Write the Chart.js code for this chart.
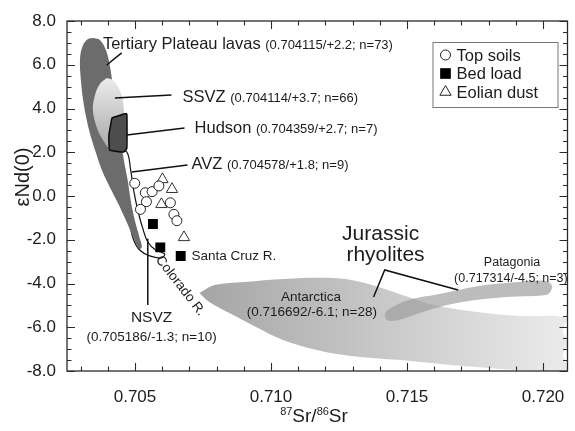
<!DOCTYPE html>
<html>
<head>
<meta charset="utf-8">
<script src="https://cdn.jsdelivr.net/npm/chart.js@4.4.1/dist/chart.umd.min.js"></script>
<style>
  html, body { margin: 0; padding: 0; background: #fff; }
</style>
</head>
<body>
<canvas id="srNdChart" width="575" height="431"></canvas>
<script>
// tick labels
const xTicks = [0.705, 0.710, 0.715, 0.720];
const yTicks = [-8, -6, -4, -2, 0, 2, 4, 6, 8];

// samples: [87Sr/86Sr, eNd(0)]
const topSoils = [[0.70499, 0.58], [0.70538, 0.15], [0.70563, 0.20], [0.70588, 0.46], [0.70542, -0.26],
  [0.70520, -0.61], [0.70630, -0.31], [0.70643, -0.84], [0.70654, -1.13]];
const bedLoad = [[0.70566, -1.28], [0.70593, -2.35], [0.70668, -2.74]];
const eolianDust = [[0.70601, 0.76], [0.70636, 0.31], [0.70597, -0.38], [0.70680, -1.89]];

// source fields, outlines
const tertiaryLavas = [[0.70345, 7.22], [0.70371, 7.13], [0.70393, 6.67], [0.70407, 5.99], [0.70418, 5.07],
  [0.70429, 3.93], [0.70444, 2.79], [0.70459, 1.65], [0.70473, 0.73], [0.70484, -0.18], [0.70499, -1.10],
  [0.70517, -1.92], [0.70525, -2.33], [0.70514, -2.42], [0.70495, -1.92], [0.70466, -1.10], [0.70437, -0.32],
  [0.70407, 0.41], [0.70378, 1.19], [0.70353, 2.10], [0.70331, 3.02], [0.70312, 4.16], [0.70301, 5.30],
  [0.70298, 6.31], [0.70309, 6.90], [0.70327, 7.18]];
const ssvz = [[0.70396, 5.39], [0.70418, 5.30], [0.70440, 4.94], [0.70455, 4.39], [0.70459, 3.70],
  [0.70448, 3.11], [0.70429, 2.56], [0.70407, 2.19], [0.70382, 2.56], [0.70360, 3.11], [0.70345, 3.93],
  [0.70353, 4.62], [0.70371, 5.12]];
const hudson = [[0.70415, 3.57], [0.70459, 3.75], [0.70470, 3.75], [0.70470, 2.19], [0.70459, 2.01],
  [0.70407, 2.10], [0.70404, 2.79]];
const avz = [[0.70437, 2.10], [0.70470, 2.01], [0.70484, 1.19], [0.70495, 0.27], [0.70510, -0.64],
  [0.70528, -1.46], [0.70547, -2.10], [0.70576, -2.47], [0.70609, -2.65], [0.70598, -2.83], [0.70554, -2.74],
  [0.70517, -2.47], [0.70495, -2.01], [0.70481, -1.33], [0.70470, -0.64], [0.70459, 0.05], [0.70444, 0.96],
  [0.70429, 1.74]];
const antarctica = [[0.70737, -4.43], [0.70792, -4.07], [0.70902, -3.93], [0.71048, -3.79], [0.71231, -3.75],
  [0.71330, -3.93], [0.71418, -4.25], [0.71516, -4.66], [0.71615, -5.03], [0.71787, -5.35], [0.71912, -5.48],
  [0.72091, -5.58], [0.72073, -6.22], [0.72095, -6.67], [0.72073, -7.27], [0.72095, -7.72], [0.72087, -8.00],
  [0.71912, -7.95], [0.71663, -7.72], [0.71476, -7.50], [0.71293, -7.31], [0.71169, -7.04], [0.71044, -6.58],
  [0.70938, -5.94], [0.70847, -5.35], [0.70773, -4.84]];
const patagonia = [[0.71425, -5.67], [0.71418, -5.39], [0.71440, -5.12], [0.71505, -4.75], [0.71619, -4.48],
  [0.71765, -4.11], [0.71912, -3.93], [0.72011, -3.88], [0.72032, -4.07], [0.72029, -4.34], [0.72011, -4.52],
  [0.71864, -4.62], [0.71703, -4.84], [0.71593, -5.16], [0.71469, -5.67], [0.71440, -5.71]];

// leader lines for the labels
const leaders = [
  [[0.70396, 5.99], [0.70451, 6.54]],
  [[0.70426, 4.48], [0.70634, 4.62]],
  [[0.70470, 2.79], [0.70682, 3.11]],
  [[0.70488, 1.10], [0.70693, 1.42]],
  [[0.70547, -1.95], [0.70547, -4.98]],
  [[0.71377, -4.62], [0.71418, -3.38], [0.71688, -4.30]]
];

// label texts and where they sit (data units)
const headNotes = [
  { big: 'Tertiary Plateau lavas', small: '(0.704115/+2.2; n=73)', x: 0.70382, y: 6.72 },
  { big: 'SSVZ', small: '(0.704114/+3.7; n=66)', x: 0.70675, y: 4.30 },
  { big: 'Hudson', small: '(0.704359/+2.7; n=7)', x: 0.70719, y: 2.88 },
  { big: 'AVZ', small: '(0.704578/+1.8; n=9)', x: 0.70708, y: 1.23 }
];
const plainNotes = [
  { text: 'NSVZ', size: 15.5, x: 0.70561, y: -5.58 },
  { text: '(0.705186/-1.3; n=10)', size: 13.5, x: 0.70561, y: -6.44 },
  { text: 'Jurassic', size: 21, x: 0.71403, y: -1.74 },
  { text: 'rhyolites', size: 21, x: 0.71421, y: -2.70 },
  { text: 'Antarctica', size: 13.5, x: 0.71147, y: -4.62 },
  { text: '(0.716692/-6.1; n=28)', size: 13.5, x: 0.71150, y: -5.30 },
  { text: 'Patagonia', size: 12.5, x: 0.71886, y: -3.06 },
  { text: '(0.717314/-4.5; n=3)', size: 12.5, x: 0.71882, y: -3.79 },
  { text: 'Santa Cruz R.', size: 13.5, x: 0.70708, y: -2.74, align: 'left' },
  { text: 'Colorado R.', size: 13.5, x: 0.70667, y: -4.11, rot: 52 }
];

const FONT = "'Liberation Sans', Arial, sans-serif";
const INK = '#1c1c1c';

const toXY = arr => arr.map(([x, y]) => ({ x, y }));
const closed = arr => toXY(arr.concat([arr[0]]));

// gradient helpers (pixel positions come from the scales)
function hGradient(ctx, x0, x1, c0, c1) {
  const chart = ctx.chart;
  if (!chart.chartArea) return c0;
  const sx = chart.scales.x;
  const g = chart.ctx.createLinearGradient(sx.getPixelForValue(x0), 0, sx.getPixelForValue(x1), 0);
  g.addColorStop(0, c0);
  g.addColorStop(1, c1);
  return g;
}
function vGradient(ctx, y0, y1, c0, c1) {
  const chart = ctx.chart;
  if (!chart.chartArea) return c0;
  const sy = chart.scales.y;
  const g = chart.ctx.createLinearGradient(0, sy.getPixelForValue(y0), 0, sy.getPixelForValue(y1));
  g.addColorStop(0, c0);
  g.addColorStop(1, c1);
  return g;
}

function field(label, pts, fillColor, order, extra) {
  return Object.assign({
    type: 'line',
    label: label,
    data: closed(pts),
    fill: 'shape',
    backgroundColor: fillColor,
    borderWidth: 0,
    borderColor: 'rgba(0,0,0,0)',
    pointRadius: 0,
    tension: 0.35,
    order: order
  }, extra || {});
}

const datasets = [
  field('Antarctica', antarctica, c => hGradient(c, 0.7075, 0.7205, '#a6a6a6', '#e9e9e9'), 20),
  field('Patagonia', patagonia, c => hGradient(c, 0.714, 0.720, 'rgba(150,150,150,0.6)', 'rgba(170,170,170,0.8)'), 19),
  field('AVZ', avz, '#ffffff', 18, { borderWidth: 1.2, borderColor: '#111' }),
  field('Tertiary Plateau lavas', tertiaryLavas, '#6c6c6c', 17),
  field('SSVZ', ssvz, c => vGradient(c, 5.4, 2.2, '#ececec', '#a9a9a9'), 16),
  field('Hudson', hudson, '#4d4d4d', 15, { borderWidth: 1.5, borderColor: '#0a0a0a', tension: 0.1 })
];

leaders.forEach((pts, i) => {
  datasets.push({
    type: 'line',
    label: 'leader' + i,
    data: toXY(pts),
    borderColor: '#111',
    borderWidth: 1.5,
    pointRadius: 0,
    fill: false,
    tension: 0,
    order: 5
  });
});

datasets.push(
  { label: 'Top soils', data: toXY(topSoils), pointStyle: 'circle', pointRadius: 5,
    backgroundColor: '#fff', borderColor: '#222', borderWidth: 1, order: 1 },
  { label: 'Bed load', data: toXY(bedLoad), pointStyle: 'rect', pointRadius: 7,
    backgroundColor: '#000', borderColor: '#000', borderWidth: 0, order: 1 },
  { label: 'Eolian dust', data: toXY(eolianDust), pointStyle: 'triangle', pointRadius: 6.5,
    backgroundColor: '#fff', borderColor: '#333', borderWidth: 1, order: 1 }
);

// frame, inward ticks, labels, legend and axis titles
const decorPlugin = {
  id: 'decor',
  afterDatasetsDraw(chart) {
    const { ctx, chartArea: a, scales: { x, y } } = chart;
    ctx.save();
    ctx.strokeStyle = '#2a2a2a';
    ctx.lineWidth = 1.3;
    ctx.strokeRect(a.left, a.top, a.right - a.left, a.bottom - a.top);

    ctx.lineWidth = 1.1;
    ctx.beginPath();
    for (let i = 703; i <= 720; i++) {
      const px = Math.round(x.getPixelForValue(i / 1000)) + 0.5;
      const len = i % 5 === 0 ? 8 : 4.5;
      ctx.moveTo(px, a.bottom); ctx.lineTo(px, a.bottom - len);
      ctx.moveTo(px, a.top); ctx.lineTo(px, a.top + len);
    }
    for (let i = -16; i <= 16; i++) {
      const py = Math.round(y.getPixelForValue(i / 2)) + 0.5;
      const len = i % 4 === 0 ? 8 : 4.5;
      ctx.moveTo(a.left, py); ctx.lineTo(a.left + len, py);
      ctx.moveTo(a.right, py); ctx.lineTo(a.right - len, py);
    }
    ctx.stroke();

    ctx.fillStyle = INK;
    // labels with a large name and a small bracket
    headNotes.forEach(n => {
      const px = x.getPixelForValue(n.x), py = y.getPixelForValue(n.y);
      ctx.textAlign = 'left';
      ctx.textBaseline = 'alphabetic';
      ctx.font = '16.5px ' + FONT;
      ctx.fillText(n.big, px, py);
      const w = ctx.measureText(n.big + ' ').width;
      ctx.font = '13px ' + FONT;
      ctx.fillText(n.small, px + w, py);
    });
    plainNotes.forEach(n => {
      const px = x.getPixelForValue(n.x), py = y.getPixelForValue(n.y);
      ctx.save();
      ctx.translate(px, py);
      if (n.rot) ctx.rotate(n.rot * Math.PI / 180);
      ctx.font = n.size + 'px ' + FONT;
      ctx.textAlign = n.align || 'center';
      ctx.textBaseline = 'middle';
      ctx.fillText(n.text, 0, 0);
      ctx.restore();
    });

    // legend box
    const bx = a.right - 135, by = a.top + 21, bw = 125, bh = 65;
    ctx.fillStyle = '#fff';
    ctx.fillRect(bx, by, bw, bh);
    ctx.strokeStyle = '#777';
    ctx.lineWidth = 1;
    ctx.strokeRect(bx + 0.5, by + 0.5, bw, bh);
    ctx.font = '16.5px ' + FONT;
    ctx.textAlign = 'left';
    ctx.textBaseline = 'middle';
    const items = [
      { text: 'Top soils', style: 'circle', r: 5, bg: '#fff' },
      { text: 'Bed load', style: 'rect', r: 7, bg: '#000' },
      { text: 'Eolian dust', style: 'triangle', r: 6.5, bg: '#fff' }
    ];
    items.forEach((it, i) => {
      const cy = by + 13 + i * 18.5;
      ctx.fillStyle = it.bg;
      ctx.strokeStyle = '#222';
      ctx.lineWidth = 1;
      Chart.helpers.drawPoint(ctx, { pointStyle: it.style, radius: it.r, borderWidth: 1 }, bx + 13, cy);
      ctx.fillStyle = INK;
      ctx.fillText(it.text, bx + 24, cy + 1);
    });

    // y title
    ctx.save();
    ctx.translate(23, 177);
    ctx.rotate(-Math.PI / 2);
    ctx.font = '20px ' + FONT;
    ctx.textAlign = 'center';
    ctx.textBaseline = 'middle';
    ctx.fillStyle = INK;
    ctx.fillText('\u03b5Nd(0)', 0, 0);
    ctx.restore();

    // x title with superscripts
    const parts = [['87', true], ['Sr/', false], ['86', true], ['Sr', false]];
    let total = 0;
    parts.forEach(([t, sup]) => {
      ctx.font = (sup ? '11px ' : '19px ') + FONT;
      total += ctx.measureText(t).width;
    });
    let tx = 314 - total / 2;
    const base = 422;
    ctx.textAlign = 'left';
    ctx.textBaseline = 'alphabetic';
    parts.forEach(([t, sup]) => {
      ctx.font = (sup ? '11px ' : '19px ') + FONT;
      ctx.fillText(t, tx, sup ? base - 7 : base);
      tx += ctx.measureText(t).width;
    });
    ctx.restore();
  }
};

new Chart(document.getElementById('srNdChart').getContext('2d'), {
  type: 'scatter',
  data: { datasets: datasets },
  options: {
    responsive: false,
    animation: false,
    layout: { padding: { top: 21, right: 3, left: 0, bottom: 0 } },
    plugins: { legend: { display: false }, tooltip: { enabled: false } },
    scales: {
      x: {
        type: 'linear',
        min: 0.7025,
        max: 0.7209,
        afterBuildTicks: s => { s.ticks = xTicks.map(v => ({ value: v })); },
        afterFit: s => { s.height = 60; },
        grid: { display: false },
        border: { display: false },
        ticks: {
          callback: v => v.toFixed(3),
          font: { family: FONT, size: 17 },
          color: INK,
          padding: 8,
          maxRotation: 0,
          autoSkip: false
        }
      },
      y: {
        min: -8,
        max: 8,
        afterBuildTicks: s => { s.ticks = yTicks.map(v => ({ value: v })); },
        afterFit: s => { s.width = 67; },
        grid: { display: false },
        border: { display: false },
        ticks: {
          callback: v => v.toFixed(1),
          font: { family: FONT, size: 17 },
          color: INK,
          padding: 3,
          autoSkip: false
        }
      }
    }
  },
  plugins: [decorPlugin]
});
</script>
</body>
</html>
